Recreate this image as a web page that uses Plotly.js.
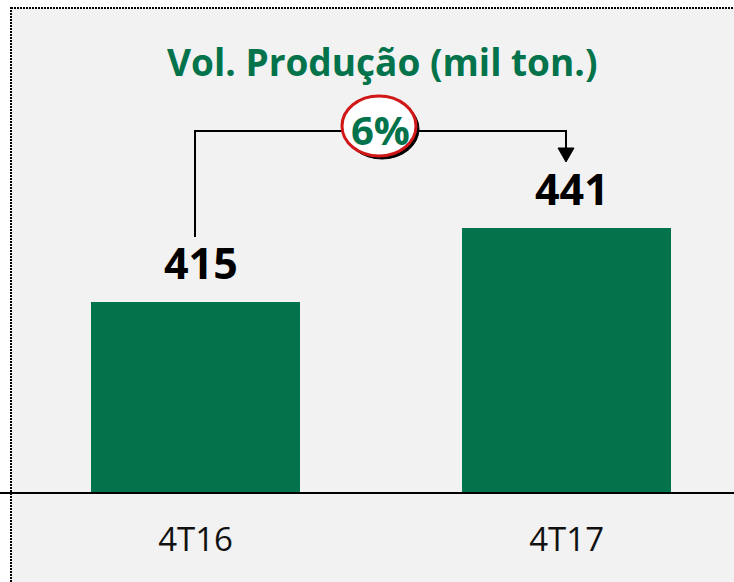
<!DOCTYPE html>
<html>
<head>
<meta charset="utf-8">
<script src="https://cdn.plot.ly/plotly-3.0.1.min.js"></script>
<style>html,body{margin:0;padding:0;background:#fff;}#chart{width:734px;height:582px;}</style>
</head>
<body>
<div id="chart"></div>
<script>
// Data
const categories = ['4T16', '4T17'];
const values = [415, 441];
const changeLabel = ['6%'];
const chartTitle = 'Vol. Produção (mil ton.)';

const GREEN = '#02734a';
const W = 734, H = 582, plotH = 492;
const px = v => v / W;            // paper x from pixel
const py = v => 1 - v / plotH;    // paper y from pixel

const trace = {
  type: 'bar',
  x: categories,
  y: values,
  width: 0.563,
  marker: {color: GREEN, line: {width: 0}},
  hoverinfo: 'skip'
};

const annotations = categories.map((c, i) => ({
  x: c, y: values[i], xref: 'x', yref: 'y',
  text: '<b>' + values[i] + '</b>',
  showarrow: false, yanchor: 'bottom', xanchor: 'center',
  yshift: 8, xshift: 5,
  font: {family: 'Open Sans', size: 43, color: '#000'}
}));
annotations.push({
  xref: 'paper', yref: 'paper', x: px(382), y: py(62),
  text: '<b>' + chartTitle + '</b>', showarrow: false,
  xanchor: 'center', yanchor: 'middle',
  font: {family: 'Open Sans', size: 37, color: GREEN}
});
annotations.push({
  xref: 'paper', yref: 'paper', x: px(380), y: py(129),
  text: '<b>' + changeLabel[0] + '</b>', showarrow: false,
  xanchor: 'center', yanchor: 'middle',
  font: {family: 'Open Sans', size: 40, color: GREEN}
});

const shapes = [
  // background panel with dotted border
  {type: 'rect', xref: 'paper', yref: 'paper', layer: 'below',
   x0: px(11), x1: px(760), y0: py(8), y1: py(620),
   fillcolor: '#f2f2f2', line: {color: '#000', width: 2, dash: '2px,1px'}},
  // connector
  {type: 'path', xref: 'paper', yref: 'paper',
   path: `M ${px(195)} ${py(237)} L ${px(195)} ${py(131)} L ${px(566)} ${py(131)} L ${px(566)} ${py(150)}`,
   line: {color: '#000', width: 2}},
  {type: 'path', xref: 'paper', yref: 'paper',
   path: `M ${px(558)} ${py(148)} L ${px(574)} ${py(148)} L ${px(566)} ${py(162)} Z`,
   fillcolor: '#000', line: {color: '#000', width: 1}},
  // ellipse shadow
  {type: 'circle', xref: 'paper', yref: 'paper',
   x0: px(345), x1: px(419), y0: py(99), y1: py(159),
   fillcolor: '#000', line: {color: '#000', width: 1}},
  {type: 'circle', xref: 'paper', yref: 'paper',
   x0: px(342), x1: px(416), y0: py(96), y1: py(156),
   fillcolor: '#fff', line: {color: '#d01818', width: 3}}
];

const layout = {
  width: W, height: H,
  margin: {l: 0, r: 0, t: 0, b: H - plotH, pad: 0},
  paper_bgcolor: '#ffffff',
  plot_bgcolor: 'rgba(0,0,0,0)',
  showlegend: false,
  bargap: 0,
  xaxis: {
    type: 'category', range: [-0.527, 1.451],
    showline: true, linecolor: '#000', linewidth: 2,
    showgrid: false, zeroline: false, ticks: '',
    tickfont: {family: 'Open Sans', size: 33, color: '#111'},
    ticklabelstandoff: 17,
    fixedrange: true
  },
  yaxis: {
    range: [348.24, 521.1], visible: false, showgrid: false, zeroline: false,
    fixedrange: true
  },
  shapes: shapes,
  annotations: annotations
};

Plotly.newPlot('chart', [trace], layout, {displayModeBar: false, staticPlot: true});
</script>
</body>
</html>
